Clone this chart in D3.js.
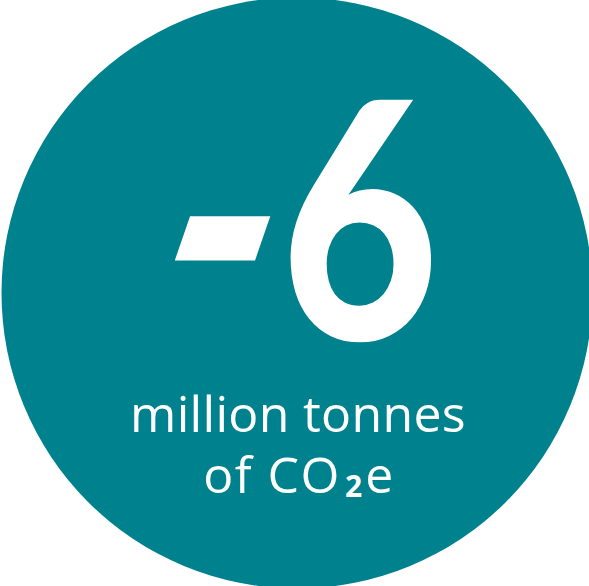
<!DOCTYPE html>
<html>
<head>
<meta charset="utf-8">
<script src="https://cdn.jsdelivr.net/npm/d3@7"></script>
<style>
  html, body { margin: 0; padding: 0; background: #ffffff; }
  svg { display: block; }
</style>
</head>
<body>
<div id="chart"></div>
<script>
// ---- data ----
const metricValue = [-6];
const metricSign = ["-"];
const metricDigits = ["6"];
const unitLine1 = ["million tonnes"];
const unitLine2 = ["of CO", "2", "e"];
const circleColor = ["#00818e"];

const W = 589, H = 586;
const svg = d3.select("#chart").append("svg")
  .attr("width", W).attr("height", H);

// circle sized by value magnitude
const rScale = d3.scaleSqrt().domain([0, 6]).range([0, 295.5]);
const cx = 297, cy = 293;

svg.selectAll("circle.bubble")
  .data(metricValue)
  .join("circle")
  .attr("class", "bubble")
  .attr("cx", cx).attr("cy", cy)
  .attr("r", d => rScale(Math.abs(d)))
  .attr("fill", circleColor[0]);

// ink-box fitting helper (canvas metrics)
const ctx = document.createElement("canvas").getContext("2d");
function fit(str, family, weight, box) {
  const S = 200;
  ctx.font = `${weight} ${S}px ${family}`;
  const m = ctx.measureText(str);
  const left = -m.actualBoundingBoxLeft, right = m.actualBoundingBoxRight;
  const top = -m.actualBoundingBoxAscent, bottom = m.actualBoundingBoxDescent;
  const sx = (box.x1 - box.x0) / (right - left);
  const sy = (box.y1 - box.y0) / (bottom - top);
  const tx = box.x0 - sx * left, ty = box.y0 - sy * top;
  return { S, transform: `translate(${tx},${ty}) scale(${sx},${sy})` };
}

const bigFamily = "Lato, 'Open Sans', sans-serif";
const dashBox = { x0: 181, x1: 263, y0: 216, y1: 261 };
const dcx = (dashBox.x0 + dashBox.x1) / 2, dcy = (dashBox.y0 + dashBox.y1) / 2;
const dash = fit(metricSign[0], bigFamily, 900, dashBox);
svg.append("g")
  .attr("transform", `translate(${dcx},${dcy}) skewX(-19) translate(${-dcx},${-dcy})`)
  .append("text")
  .attr("transform", dash.transform)
  .attr("font-family", bigFamily).attr("font-weight", 900)
  .attr("font-size", dash.S).attr("fill", "#ffffff")
  .text(metricSign[0]);

const six = fit(metricDigits[0], bigFamily, 900, { x0: 290, x1: 432, y0: 100, y1: 343 });
svg.append("text")
  .attr("transform", six.transform)
  .attr("font-family", bigFamily).attr("font-weight", 900)
  .attr("font-size", six.S).attr("fill", "#ffffff")
  .text(metricDigits[0]);

// unit text
const smallFamily = "'Open Sans', sans-serif";
svg.append("text")
  .attr("x", 298).attr("y", 432)
  .attr("text-anchor", "middle")
  .attr("font-family", smallFamily).attr("font-size", 50)
  .attr("letter-spacing", 0.3)
  .attr("fill", "#ffffff")
  .text(unitLine1[0]);

const t2 = svg.append("text")
  .attr("x", 299).attr("y", 493)
  .attr("text-anchor", "middle")
  .attr("font-family", smallFamily).attr("font-size", 50)
  .attr("letter-spacing", 1.5)
  .attr("fill", "#ffffff");
t2.append("tspan").text(unitLine2[0]);
t2.append("tspan").attr("font-size", 30).attr("font-weight", 700)
  .attr("dx", 4).attr("dy", 4).attr("letter-spacing", 0).text(unitLine2[1]);
t2.append("tspan").attr("dx", 3).attr("dy", -4).text(unitLine2[2]);
</script>
</body>
</html>
